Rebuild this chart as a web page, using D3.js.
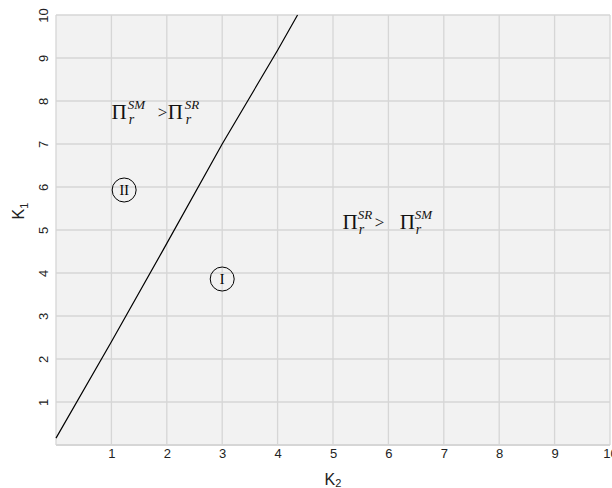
<!DOCTYPE html>
<html lang="en">
<head>
    <meta charset="utf-8">
    <script src="https://cdn.jsdelivr.net/npm/d3@7"></script>
    <style>
        body { margin: 0; background: #fff; }
        .tick text { font-family: "Liberation Sans", Arial, sans-serif; fill: #222; }
    </style>
</head>

<body>
<div id="svg"></div>

<script>
    // boundary between region I and region II (K2 -> K1)
    var boundaryK2 = [0, 1, 1.94, 3, 4, 4.36];
    var boundaryK1 = [0.16, 2.40, 4.55, 7.0, 9.18, 10];

    var xTicks = [1, 2, 3, 4, 5, 6, 7, 8, 9, 10];
    var yTicks = [1, 2, 3, 4, 5, 6, 7, 8, 9, 10];

    // region markers
    var regionNames = ["I", "II"];
    var regionK2 = [3, 1.23];
    var regionK1 = [3.86, 5.93];

    // profit comparison labels: [superscript left, superscript right]
    var compareSup = [["SM", "SR"], ["SR", "SM"]];
    var compareK2 = [1.0, 5.17];
    var compareK1 = [7.59, 5.03];
    var compareDx = [[0, 16.3, 46.3, 56.3, 73.3], [0, 15.3, 32.3, 57.3, 72.3]];

    var margin = {top: 15, right: 2, bottom: 43, left: 56},
        width = 612 - margin.left - margin.right,
        height = 488 - margin.top - margin.bottom;

    var svg = d3.select("#svg").append("svg")
        .attr("width", 612)
        .attr("height", 488);

    var g = svg.append("g")
        .attr("transform", "translate(" + margin.left + "," + margin.top + ")");

    var x = d3.scaleLinear().domain([0, 10]).range([0, 554]);
    var y = d3.scaleLinear().domain([0, 10]).range([430, 0]);

    g.append("rect")
        .attr("width", x(10))
        .attr("height", y(0))
        .style("fill", "#f2f2f2");

    // grid
    g.selectAll(".vgrid")
        .data(d3.range(0, 11))
    .enter().append("line")
        .attr("class", "vgrid")
        .attr("x1", function(d){ return x(d); })
        .attr("x2", function(d){ return x(d); })
        .attr("y1", y(0))
        .attr("y2", y(10))
        .style("stroke", "#d6d6d6")
        .style("stroke-width", 1.3);

    g.selectAll(".hgrid")
        .data(d3.range(0, 11))
    .enter().append("line")
        .attr("class", "hgrid")
        .attr("y1", function(d){ return y(d); })
        .attr("y2", function(d){ return y(d); })
        .attr("x1", x(0))
        .attr("x2", x(10))
        .style("stroke", "#d6d6d6")
        .style("stroke-width", function(d){ return d === 0 ? 2 : 1.3; });

    // axes (labels only)
    var xAxis = g.append("g")
        .attr("transform", "translate(0," + y(0) + ")")
        .call(d3.axisBottom(x).tickValues(xTicks).tickSize(0).tickPadding(4).tickFormat(d3.format("d")));
    xAxis.select(".domain").remove();
    xAxis.selectAll("text").style("font-size", "13px");

    var yAxis = g.append("g")
        .call(d3.axisLeft(y).tickValues(yTicks).tickSize(0).tickFormat(d3.format("d")));
    yAxis.select(".domain").remove();
    yAxis.selectAll("text")
        .style("font-size", "13px")
        .attr("x", null)
        .attr("dy", null)
        .style("text-anchor", "middle")
        .attr("transform", "translate(-8,0) rotate(-90)");

    // axis titles
    var xTitle = svg.append("text")
        .attr("x", margin.left + x(5))
        .attr("y", 485)
        .style("text-anchor", "middle")
        .style("font-family", "Liberation Sans, Arial, sans-serif")
        .style("font-size", "16px")
        .style("fill", "#222");
    xTitle.append("tspan").text("K");
    xTitle.append("tspan").attr("dy", 2).style("font-size", "11px").text("2");

    var yTitle = svg.append("text")
        .attr("transform", "translate(24,211) rotate(-90)")
        .style("text-anchor", "middle")
        .style("font-family", "Liberation Sans, Arial, sans-serif")
        .style("font-size", "16px")
        .style("fill", "#222");
    yTitle.append("tspan").text("K");
    yTitle.append("tspan").attr("dy", 4).style("font-size", "11px").text("1");

    // boundary line
    var line = d3.line()
        .x(function(d){ return x(d[0]); })
        .y(function(d){ return y(d[1]); });

    g.append("path")
        .datum(d3.zip(boundaryK2, boundaryK1))
        .attr("d", line)
        .style("fill", "none")
        .style("stroke", "#000")
        .style("stroke-width", 1.2);

    // circled region numbers
    var regions = g.selectAll(".region")
        .data(regionNames)
    .enter().append("g")
        .attr("class", "region")
        .attr("transform", function(d, i){
            return "translate(" + x(regionK2[i]) + "," + y(regionK1[i]) + ")";
        });

    regions.append("circle")
        .attr("r", 12)
        .style("fill", "none")
        .style("stroke", "#000")
        .style("stroke-width", 1);

    regions.append("text")
        .attr("dy", "0.35em")
        .style("text-anchor", "middle")
        .style("font-family", "Liberation Serif, Times New Roman, serif")
        .style("font-size", "14px")
        .text(function(d){ return d; });

    // Pi comparison labels
    compareSup.forEach(function(sup, i){
        var lg = g.append("g")
            .attr("transform", "translate(" + x(compareK2[i]) + "," + y(compareK1[i]) + ")")
            .style("font-family", "Liberation Serif, Times New Roman, serif")
            .style("fill", "#111");
        var dx = compareDx[i];

        function pi(px, s){
            lg.append("text").attr("x", px).style("font-size", "21px").text("\u03A0");
            lg.append("text").attr("x", dx[s]).attr("y", -10)
                .style("font-size", "13px").style("font-style", "italic")
                .text(sup[s === 1 ? 0 : 1]);
            lg.append("text").attr("x", dx[s] + 1).attr("y", 5)
                .style("font-size", "14px").style("font-style", "italic")
                .text("r");
        }
        pi(dx[0], 1);
        lg.append("text").attr("x", dx[2]).attr("y", -1).style("font-size", "17px").text(">");
        pi(dx[3], 4);
    });
</script>
</body>
</html>
